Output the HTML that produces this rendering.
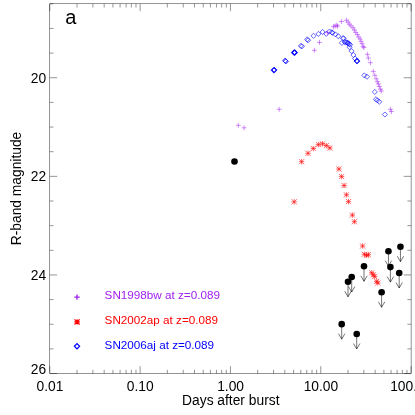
<!DOCTYPE html><html><head><meta charset="utf-8"><style>html,body{margin:0;padding:0;background:#fff}svg{display:block;will-change:transform}text{font-family:"Liberation Sans",sans-serif}</style></head><body>
<svg width="415" height="415" viewBox="0 0 415 415">
<g stroke="#000" stroke-width="0.42" fill="none">
<rect x="49.8" y="3.8" width="361.3" height="369.75"/>
<path d="M49.80 373.55v-7.4M49.80 3.8v7.4M76.99 373.55v-3.7M76.99 3.8v3.7M92.90 373.55v-3.7M92.90 3.8v3.7M104.18 373.55v-3.7M104.18 3.8v3.7M112.93 373.55v-3.7M112.93 3.8v3.7M120.09 373.55v-3.7M120.09 3.8v3.7M126.13 373.55v-3.7M126.13 3.8v3.7M131.37 373.55v-3.7M131.37 3.8v3.7M135.99 373.55v-3.7M135.99 3.8v3.7M140.12 373.55v-7.4M140.12 3.8v7.4M167.32 373.55v-3.7M167.32 3.8v3.7M183.22 373.55v-3.7M183.22 3.8v3.7M194.51 373.55v-3.7M194.51 3.8v3.7M203.26 373.55v-3.7M203.26 3.8v3.7M210.41 373.55v-3.7M210.41 3.8v3.7M216.46 373.55v-3.7M216.46 3.8v3.7M221.70 373.55v-3.7M221.70 3.8v3.7M226.32 373.55v-3.7M226.32 3.8v3.7M230.45 373.55v-7.4M230.45 3.8v7.4M257.64 373.55v-3.7M257.64 3.8v3.7M273.55 373.55v-3.7M273.55 3.8v3.7M284.83 373.55v-3.7M284.83 3.8v3.7M293.58 373.55v-3.7M293.58 3.8v3.7M300.74 373.55v-3.7M300.74 3.8v3.7M306.78 373.55v-3.7M306.78 3.8v3.7M312.02 373.55v-3.7M312.02 3.8v3.7M316.64 373.55v-3.7M316.64 3.8v3.7M320.78 373.55v-7.4M320.78 3.8v7.4M347.97 373.55v-3.7M347.97 3.8v3.7M363.87 373.55v-3.7M363.87 3.8v3.7M375.16 373.55v-3.7M375.16 3.8v3.7M383.91 373.55v-3.7M383.91 3.8v3.7M391.06 373.55v-3.7M391.06 3.8v3.7M397.11 373.55v-3.7M397.11 3.8v3.7M402.35 373.55v-3.7M402.35 3.8v3.7M406.97 373.55v-3.7M406.97 3.8v3.7M411.10 373.55v-7.4M411.10 3.8v7.4M49.8 3.80h3.7M411.1 3.80h-3.7M49.8 28.45h3.7M411.1 28.45h-3.7M49.8 53.10h3.7M411.1 53.10h-3.7M49.8 77.75h7.4M411.1 77.75h-7.4M49.8 102.40h3.7M411.1 102.40h-3.7M49.8 127.05h3.7M411.1 127.05h-3.7M49.8 151.70h3.7M411.1 151.70h-3.7M49.8 176.35h7.4M411.1 176.35h-7.4M49.8 201.00h3.7M411.1 201.00h-3.7M49.8 225.65h3.7M411.1 225.65h-3.7M49.8 250.30h3.7M411.1 250.30h-3.7M49.8 274.95h7.4M411.1 274.95h-7.4M49.8 299.60h3.7M411.1 299.60h-3.7M49.8 324.25h3.7M411.1 324.25h-3.7M49.8 348.90h3.7M411.1 348.90h-3.7M49.8 373.55h7.4M411.1 373.55h-7.4"/>
</g>
<g font-size="13.8px" fill="#000">
<text x="46.1" y="82.65" text-anchor="end">20</text>
<text x="46.1" y="181.25" text-anchor="end">22</text>
<text x="46.1" y="279.85" text-anchor="end">24</text>
<text x="46.1" y="373.50" text-anchor="end">26</text>
<text x="49.95" y="390.7" text-anchor="middle">0.01</text>
<text x="140.28" y="390.7" text-anchor="middle">0.10</text>
<text x="230.60" y="390.7" text-anchor="middle">1.00</text>
<text x="320.93" y="390.7" text-anchor="middle">10.00</text>
<text x="411.25" y="390.7" text-anchor="middle">100.00</text>
<text x="230.8" y="404.6" text-anchor="middle">Days after burst</text>
<text transform="translate(21.2,188.5) rotate(-90)" text-anchor="middle">R-band magnitude</text>
</g>
<text x="65.3" y="23.6" font-size="20px" fill="#000">a</text>
<g font-size="11.7px">
<text x="104.6" y="299.4" fill="#a020f0">SN1998bw at z=0.089</text>
<text x="104.6" y="323.9" fill="#ff0000">SN2002ap at z=0.089</text>
<text x="104.6" y="348.5" fill="#0000ff">SN2006aj at z=0.089</text>
</g>
<path d="M271.15 70.30l2.55 -2.55l2.55 2.55l-2.55 2.55zM271.85 69.90l2.55 -2.55l2.55 2.55l-2.55 2.55zM271.45 70.60l2.55 -2.55l2.55 2.55l-2.55 2.55zM271.55 69.60l2.55 -2.55l2.55 2.55l-2.55 2.55zM271.50 70.10l2.55 -2.55l2.55 2.55l-2.55 2.55zM282.40 60.50l2.55 -2.55l2.55 2.55l-2.55 2.55zM283.45 61.50l2.55 -2.55l2.55 2.55l-2.55 2.55zM282.95 61.00l2.55 -2.55l2.55 2.55l-2.55 2.55zM291.45 52.40l2.55 -2.55l2.55 2.55l-2.55 2.55zM292.35 52.80l2.55 -2.55l2.55 2.55l-2.55 2.55zM291.95 52.00l2.55 -2.55l2.55 2.55l-2.55 2.55zM291.85 53.10l2.55 -2.55l2.55 2.55l-2.55 2.55zM292.25 52.30l2.55 -2.55l2.55 2.55l-2.55 2.55zM291.65 52.80l2.55 -2.55l2.55 2.55l-2.55 2.55zM291.90 52.50l2.55 -2.55l2.55 2.55l-2.55 2.55zM298.35 45.90l2.55 -2.55l2.55 2.55l-2.55 2.55zM299.45 46.30l2.55 -2.55l2.55 2.55l-2.55 2.55zM304.75 39.40l2.55 -2.55l2.55 2.55l-2.55 2.55zM305.45 40.30l2.55 -2.55l2.55 2.55l-2.55 2.55zM310.95 35.80l2.55 -2.55l2.55 2.55l-2.55 2.55zM315.85 33.90l2.55 -2.55l2.55 2.55l-2.55 2.55zM320.05 32.00l2.55 -2.55l2.55 2.55l-2.55 2.55zM323.75 33.80l2.55 -2.55l2.55 2.55l-2.55 2.55zM327.05 31.50l2.55 -2.55l2.55 2.55l-2.55 2.55zM329.30 32.30l2.55 -2.55l2.55 2.55l-2.55 2.55zM329.95 32.80l2.55 -2.55l2.55 2.55l-2.55 2.55zM332.85 34.40l2.55 -2.55l2.55 2.55l-2.55 2.55zM335.75 36.20l2.55 -2.55l2.55 2.55l-2.55 2.55zM340.55 38.10l2.55 -2.55l2.55 2.55l-2.55 2.55zM341.05 38.50l2.55 -2.55l2.55 2.55l-2.55 2.55zM339.35 42.90l2.55 -2.55l2.55 2.55l-2.55 2.55zM342.25 41.90l2.55 -2.55l2.55 2.55l-2.55 2.55zM343.05 42.60l2.55 -2.55l2.55 2.55l-2.55 2.55zM344.25 42.30l2.55 -2.55l2.55 2.55l-2.55 2.55zM344.95 43.00l2.55 -2.55l2.55 2.55l-2.55 2.55zM345.75 43.20l2.55 -2.55l2.55 2.55l-2.55 2.55zM346.65 43.90l2.55 -2.55l2.55 2.55l-2.55 2.55zM347.55 44.70l2.55 -2.55l2.55 2.55l-2.55 2.55zM347.05 47.20l2.55 -2.55l2.55 2.55l-2.55 2.55zM349.05 51.10l2.55 -2.55l2.55 2.55l-2.55 2.55zM350.85 55.00l2.55 -2.55l2.55 2.55l-2.55 2.55zM352.65 58.60l2.55 -2.55l2.55 2.55l-2.55 2.55zM354.25 60.90l2.55 -2.55l2.55 2.55l-2.55 2.55zM354.55 61.30l2.55 -2.55l2.55 2.55l-2.55 2.55zM354.15 61.10l2.55 -2.55l2.55 2.55l-2.55 2.55zM354.65 60.90l2.55 -2.55l2.55 2.55l-2.55 2.55zM361.75 75.40l2.55 -2.55l2.55 2.55l-2.55 2.55zM364.45 76.70l2.55 -2.55l2.55 2.55l-2.55 2.55zM372.25 91.90l2.55 -2.55l2.55 2.55l-2.55 2.55zM373.45 99.20l2.55 -2.55l2.55 2.55l-2.55 2.55zM374.85 100.40l2.55 -2.55l2.55 2.55l-2.55 2.55zM376.75 101.80l2.55 -2.55l2.55 2.55l-2.55 2.55zM382.35 114.50l2.55 -2.55l2.55 2.55l-2.55 2.55z" stroke="#0000ff" stroke-width="0.6" fill="none"/>
<path d="M235.80 125.30h5.0M238.30 122.80v5.0M241.60 127.80h5.0M244.10 125.30v5.0M276.70 109.30h5.0M279.20 106.80v5.0M311.90 50.30h5.0M314.40 47.80v5.0M317.00 42.40h5.0M319.50 39.90v5.0M324.90 32.70h5.0M327.40 30.20v5.0M331.10 26.70h5.0M333.60 24.20v5.0M332.60 26.00h5.0M335.10 23.50v5.0M334.30 25.10h5.0M336.80 22.60v5.0M335.10 26.20h5.0M337.60 23.70v5.0M338.90 21.50h5.0M341.40 19.00v5.0M343.90 20.20h5.0M346.40 17.70v5.0M345.60 22.10h5.0M348.10 19.60v5.0M346.80 24.20h5.0M349.30 21.70v5.0M348.50 25.90h5.0M351.00 23.40v5.0M350.50 27.80h5.0M353.00 25.30v5.0M351.90 30.00h5.0M354.40 27.50v5.0M353.30 32.40h5.0M355.80 29.90v5.0M354.80 34.60h5.0M357.30 32.10v5.0M356.20 37.00h5.0M358.70 34.50v5.0M357.60 39.00h5.0M360.10 36.50v5.0M358.60 41.30h5.0M361.10 38.80v5.0M359.60 43.70h5.0M362.10 41.20v5.0M360.60 46.40h5.0M363.10 43.90v5.0M361.40 47.60h5.0M363.90 45.10v5.0M364.90 54.30h5.0M367.40 51.80v5.0M365.90 58.10h5.0M368.40 55.60v5.0M367.90 62.70h5.0M370.40 60.20v5.0M370.80 71.40h5.0M373.30 68.90v5.0M372.30 75.30h5.0M374.80 72.80v5.0M373.70 78.80h5.0M376.20 76.30v5.0M374.90 81.70h5.0M377.40 79.20v5.0M375.90 83.90h5.0M378.40 81.40v5.0M376.80 86.50h5.0M379.30 84.00v5.0M377.90 89.20h5.0M380.40 86.70v5.0M378.80 91.00h5.0M381.30 88.50v5.0M387.90 109.30h5.0M390.40 106.80v5.0M388.90 111.60h5.0M391.40 109.10v5.0" stroke="#a020f0" stroke-width="0.5" fill="none"/>
<path d="M291.50 201.80h5.4M294.20 199.10v5.4M291.63 199.24l5.13 5.13M291.63 204.37l5.13 -5.13M298.90 161.70h5.4M301.60 159.00v5.4M299.04 159.13l5.13 5.13M299.04 164.26l5.13 -5.13M305.30 153.30h5.4M308.00 150.60v5.4M305.44 150.74l5.13 5.13M305.44 155.87l5.13 -5.13M310.60 148.50h5.4M313.30 145.80v5.4M310.74 145.94l5.13 5.13M310.74 151.06l5.13 -5.13M315.70 144.60h5.4M318.40 141.90v5.4M315.83 142.03l5.13 5.13M315.83 147.16l5.13 -5.13M319.80 143.80h5.4M322.50 141.10v5.4M319.94 141.24l5.13 5.13M319.94 146.37l5.13 -5.13M323.60 145.60h5.4M326.30 142.90v5.4M323.74 143.03l5.13 5.13M323.74 148.16l5.13 -5.13M327.20 148.00h5.4M329.90 145.30v5.4M327.33 145.44l5.13 5.13M327.33 150.56l5.13 -5.13M336.20 169.00h5.4M338.90 166.30v5.4M336.33 166.44l5.13 5.13M336.33 171.56l5.13 -5.13M338.90 176.60h5.4M341.60 173.90v5.4M339.04 174.03l5.13 5.13M339.04 179.16l5.13 -5.13M341.40 185.50h5.4M344.10 182.80v5.4M341.54 182.94l5.13 5.13M341.54 188.06l5.13 -5.13M343.70 194.80h5.4M346.40 192.10v5.4M343.83 192.24l5.13 5.13M343.83 197.37l5.13 -5.13M345.80 201.60h5.4M348.50 198.90v5.4M345.94 199.03l5.13 5.13M345.94 204.16l5.13 -5.13M349.70 215.10h5.4M352.40 212.40v5.4M349.83 212.53l5.13 5.13M349.83 217.66l5.13 -5.13M351.70 221.70h5.4M354.40 219.00v5.4M351.83 219.13l5.13 5.13M351.83 224.26l5.13 -5.13M359.90 246.00h5.4M362.60 243.30v5.4M360.04 243.44l5.13 5.13M360.04 248.56l5.13 -5.13M361.60 254.30h5.4M364.30 251.60v5.4M361.74 251.74l5.13 5.13M361.74 256.87l5.13 -5.13M363.90 255.30h5.4M366.60 252.60v5.4M364.04 252.74l5.13 5.13M364.04 257.87l5.13 -5.13M365.70 254.70h5.4M368.40 252.00v5.4M365.83 252.13l5.13 5.13M365.83 257.26l5.13 -5.13M369.00 272.80h5.4M371.70 270.10v5.4M369.13 270.24l5.13 5.13M369.13 275.37l5.13 -5.13M370.60 274.80h5.4M373.30 272.10v5.4M370.74 272.24l5.13 5.13M370.74 277.37l5.13 -5.13M372.00 276.60h5.4M374.70 273.90v5.4M372.13 274.04l5.13 5.13M372.13 279.17l5.13 -5.13M374.00 281.40h5.4M376.70 278.70v5.4M374.13 278.83l5.13 5.13M374.13 283.96l5.13 -5.13M375.10 283.00h5.4M377.80 280.30v5.4M375.24 280.44l5.13 5.13M375.24 285.56l5.13 -5.13" stroke="#ff0000" stroke-width="0.6" fill="none"/>
<path d="M74.40 346.25l2.6 -2.6l2.6 2.6l-2.6 2.6z" stroke="#0000ff" stroke-width="1.2" fill="none"/>
<path d="M74.30 297.10h5.4M77.00 294.40v5.4" stroke="#a020f0" stroke-width="1.3" fill="none"/>
<path d="M74.40 321.90h5.4M77.10 319.20v5.4M74.53 319.33l5.13 5.13M74.53 324.46l5.13 -5.13" stroke="#ff0000" stroke-width="1.2" fill="none"/>
<circle cx="234.5" cy="161.5" r="3.3" fill="#000"/>
<circle cx="400.45" cy="246.7" r="3.3" fill="#000"/>
<circle cx="388.45" cy="251.2" r="3.3" fill="#000"/>
<circle cx="364.0" cy="266.3" r="3.3" fill="#000"/>
<circle cx="390.4" cy="267.1" r="3.3" fill="#000"/>
<circle cx="399.2" cy="273.0" r="3.3" fill="#000"/>
<circle cx="351.7" cy="277.0" r="3.3" fill="#000"/>
<circle cx="348.0" cy="281.8" r="3.3" fill="#000"/>
<circle cx="381.6" cy="292.3" r="3.3" fill="#000"/>
<circle cx="341.7" cy="324.15" r="3.3" fill="#000"/>
<circle cx="356.7" cy="334.0" r="3.3" fill="#000"/>
<path d="M400.45 246.7v15.0M397.25 256.20l3.2 5.5l3.2 -5.5M388.45 251.2v15.0M385.25 260.70l3.2 5.5l3.2 -5.5M364.0 266.3v15.0M360.80 275.80l3.2 5.5l3.2 -5.5M390.4 267.1v15.0M387.20 276.60l3.2 5.5l3.2 -5.5M399.2 273.0v15.0M396.00 282.50l3.2 5.5l3.2 -5.5M351.7 277.0v15.0M348.50 286.50l3.2 5.5l3.2 -5.5M348.0 281.8v15.0M344.80 291.30l3.2 5.5l3.2 -5.5M381.6 292.3v15.0M378.40 301.80l3.2 5.5l3.2 -5.5M341.7 324.15v15.0M338.50 333.65l3.2 5.5l3.2 -5.5M356.7 334.0v15.0M353.50 343.50l3.2 5.5l3.2 -5.5" stroke="#000" stroke-width="0.55" fill="none"/>
</svg></body></html>
